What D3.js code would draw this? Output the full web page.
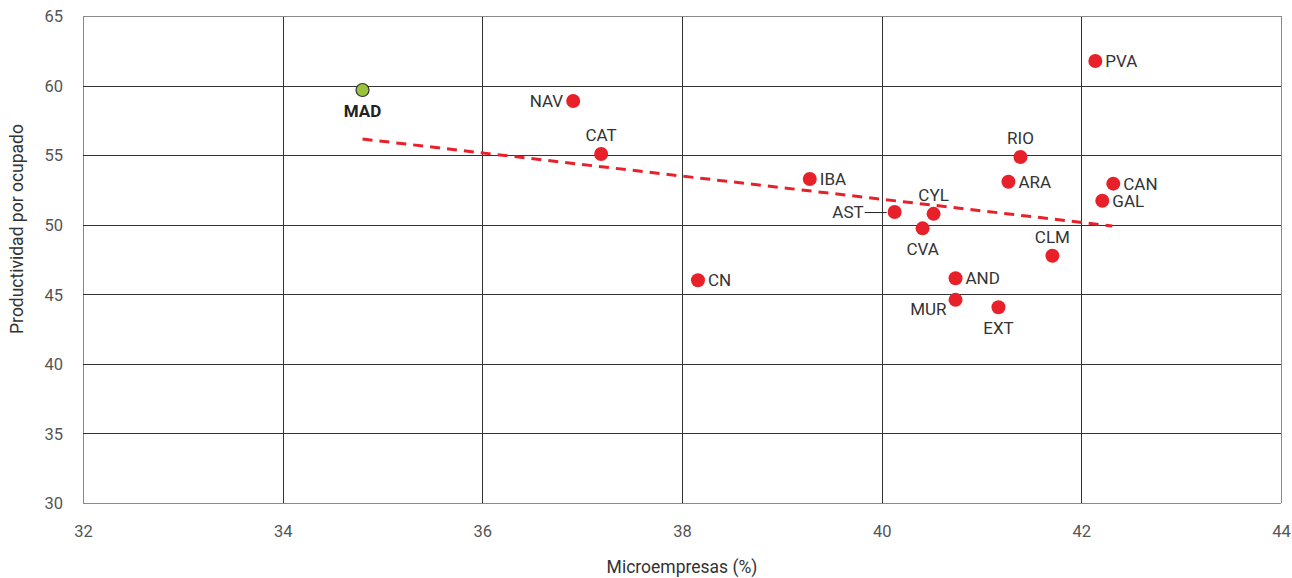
<!DOCTYPE html>
<html>
<head>
<meta charset="utf-8">
<script src="https://cdn.jsdelivr.net/npm/d3@7"></script>
<style>
  body { margin: 0; background: #fff; }
  svg { font-family: Roboto, "DejaVu Sans", sans-serif; }
</style>
</head>
<body>
<script>
// data
const regions = ['MAD', 'NAV', 'CAT', 'IBA', 'AST', 'CYL', 'CVA', 'RIO', 'ARA', 'CAN', 'GAL', 'PVA', 'CLM', 'AND', 'MUR', 'EXT', 'CN'];
const micro   = [34.80, 36.91, 37.19, 39.28, 40.13, 40.52, 40.41, 41.39, 41.27, 42.32, 42.21, 42.14, 41.71, 40.74, 40.74, 41.17, 38.16];
const produc  = [59.68, 58.89, 55.08, 53.29, 50.91, 50.78, 49.74, 54.87, 53.09, 52.95, 51.72, 61.77, 47.77, 46.15, 44.60, 44.07, 46.01];
const labelSide = ['below', 'left', 'above', 'right', 'left', 'above', 'below', 'above', 'right', 'right', 'right', 'right', 'above', 'right', 'lowleft', 'below', 'right'];
const trendX = [34.80, 42.31];
const trendY = [56.16, 49.91];
const xTicks = [32, 34, 36, 38, 40, 42, 44];
const yTicks = [30, 35, 40, 45, 50, 55, 60, 65];

const width = 1292, height = 578;
const margin = {top: 16, right: 11, bottom: 75, left: 83};

let svg = d3.select('body').append('svg')
   .attr('width', width)
   .attr('height', height);

let xScale = d3.scaleLinear().domain([32, 44]).range([margin.left, width - margin.right]);
let yScale = d3.scaleLinear().domain([30, 65]).range([height - margin.bottom, margin.top]);

// grid lines
svg.append('g')
   .selectAll('line')
   .data(xTicks)
   .enter()
   .append('line')
   .attr('x1', d => Math.round(xScale(d)) + 0.5)
   .attr('x2', d => Math.round(xScale(d)) + 0.5)
   .attr('y1', yScale(30))
   .attr('y2', yScale(65))
   .attr('stroke', (d) => (d === 32 || d === 44) ? '#8a8a8a' : '#333')
   .attr('stroke-width', 1);

svg.append('g')
   .selectAll('line')
   .data(yTicks)
   .enter()
   .append('line')
   .attr('x1', xScale(32))
   .attr('x2', xScale(44))
   .attr('y1', d => Math.round(yScale(d)) + 0.5)
   .attr('y2', d => Math.round(yScale(d)) + 0.5)
   .attr('stroke', (d) => (d === 30 || d === 65) ? '#8a8a8a' : '#333')
   .attr('stroke-width', 1);

// axes (labels only, lines drawn as grid)
let xAxis = d3.axisBottom(xScale).tickValues(xTicks).tickSize(0).tickPadding(0);
let yAxis = d3.axisLeft(yScale).tickValues(yTicks).tickSize(0).tickPadding(0);

let gx = svg.append('g')
   .attr('transform', 'translate(0,' + (height - margin.bottom + 34) + ')')
   .call(xAxis);
let gy = svg.append('g')
   .attr('transform', 'translate(' + (margin.left - 20) + ',0)')
   .call(yAxis);
[gx, gy].forEach(g => {
   g.select('.domain').remove();
   g.selectAll('text')
      .style('font-family', 'Roboto, sans-serif')
      .style('font-size', '16.5px')
      .attr('fill', '#555');
});
gx.selectAll('text').attr('dy', '0');
gy.selectAll('text').attr('dy', '0.35em');

// axis captions
svg.append('text')
   .attr('x', (margin.left + width - margin.right) / 2)
   .attr('y', 573)
   .attr('text-anchor', 'middle')
   .style('font-size', '17.5px')
   .attr('fill', '#333')
   .text('Microempresas (%)');
svg.append('text')
   .attr('transform', 'translate(23,' + 229 + ') rotate(-90)')
   .attr('text-anchor', 'middle')
   .style('font-size', '17.5px')
   .attr('fill', '#333')
   .text('Productividad por ocupado');

// trend line
svg.append('line')
   .attr('x1', xScale(trendX[0]))
   .attr('y1', yScale(trendY[0]))
   .attr('x2', xScale(trendX[1]))
   .attr('y2', yScale(trendY[1]))
   .attr('stroke', '#e8202a')
   .attr('stroke-width', 3)
   .attr('stroke-dasharray', '10,7');

const dataset = regions.map((r, i) => ({name: r, x: micro[i], y: produc[i], side: labelSide[i]}));

// dots
svg.selectAll('circle.dot')
   .data(dataset)
   .enter()
   .append('circle')
   .attr('class', 'dot')
   .attr('cx', d => xScale(d.x))
   .attr('cy', d => yScale(d.y))
   .attr('r', (d) => d.name === 'MAD' ? 6.5 : 7)
   .attr('fill', (d) => d.name === 'MAD' ? '#9bc23c' : '#e8202a')
   .attr('stroke', (d) => d.name === 'MAD' ? '#333' : 'none')
   .attr('stroke-width', 1.2);

// leader line for AST
let ast = dataset.find(d => d.name === 'AST');
svg.append('line')
   .attr('x1', xScale(ast.x) - 30)
   .attr('x2', xScale(ast.x) - 8)
   .attr('y1', yScale(ast.y) + 0.5)
   .attr('y2', yScale(ast.y) + 0.5)
   .attr('stroke', '#222')
   .attr('stroke-width', 1);

// labels
svg.selectAll('text.lbl')
   .data(dataset)
   .enter()
   .append('text')
   .attr('class', 'lbl')
   .attr('x', (d) => {
      let cx = xScale(d.x);
      if (d.side === 'left') return cx - (d.name === 'AST' ? 31 : 10);
      if (d.side === 'lowleft') return cx - 9;
      if (d.side === 'right') return cx + 10;
      return cx;
   })
   .attr('y', (d) => {
      let cy = yScale(d.y);
      if (d.side === 'above') return cy - 13;
      if (d.side === 'below') return cy + 27;
      if (d.side === 'lowleft') return cy + 15;
      return cy + 6;
   })
   .attr('text-anchor', (d) => {
      if (d.side === 'left' || d.side === 'lowleft') return 'end';
      if (d.side === 'right') return 'start';
      return 'middle';
   })
   .style('font-size', '17px')
   .style('font-weight', (d) => d.name === 'MAD' ? 'bold' : 'normal')
   .attr('fill', (d) => d.name === 'MAD' ? '#222' : '#333')
   .text(d => d.name);
</script>
</body>
</html>
